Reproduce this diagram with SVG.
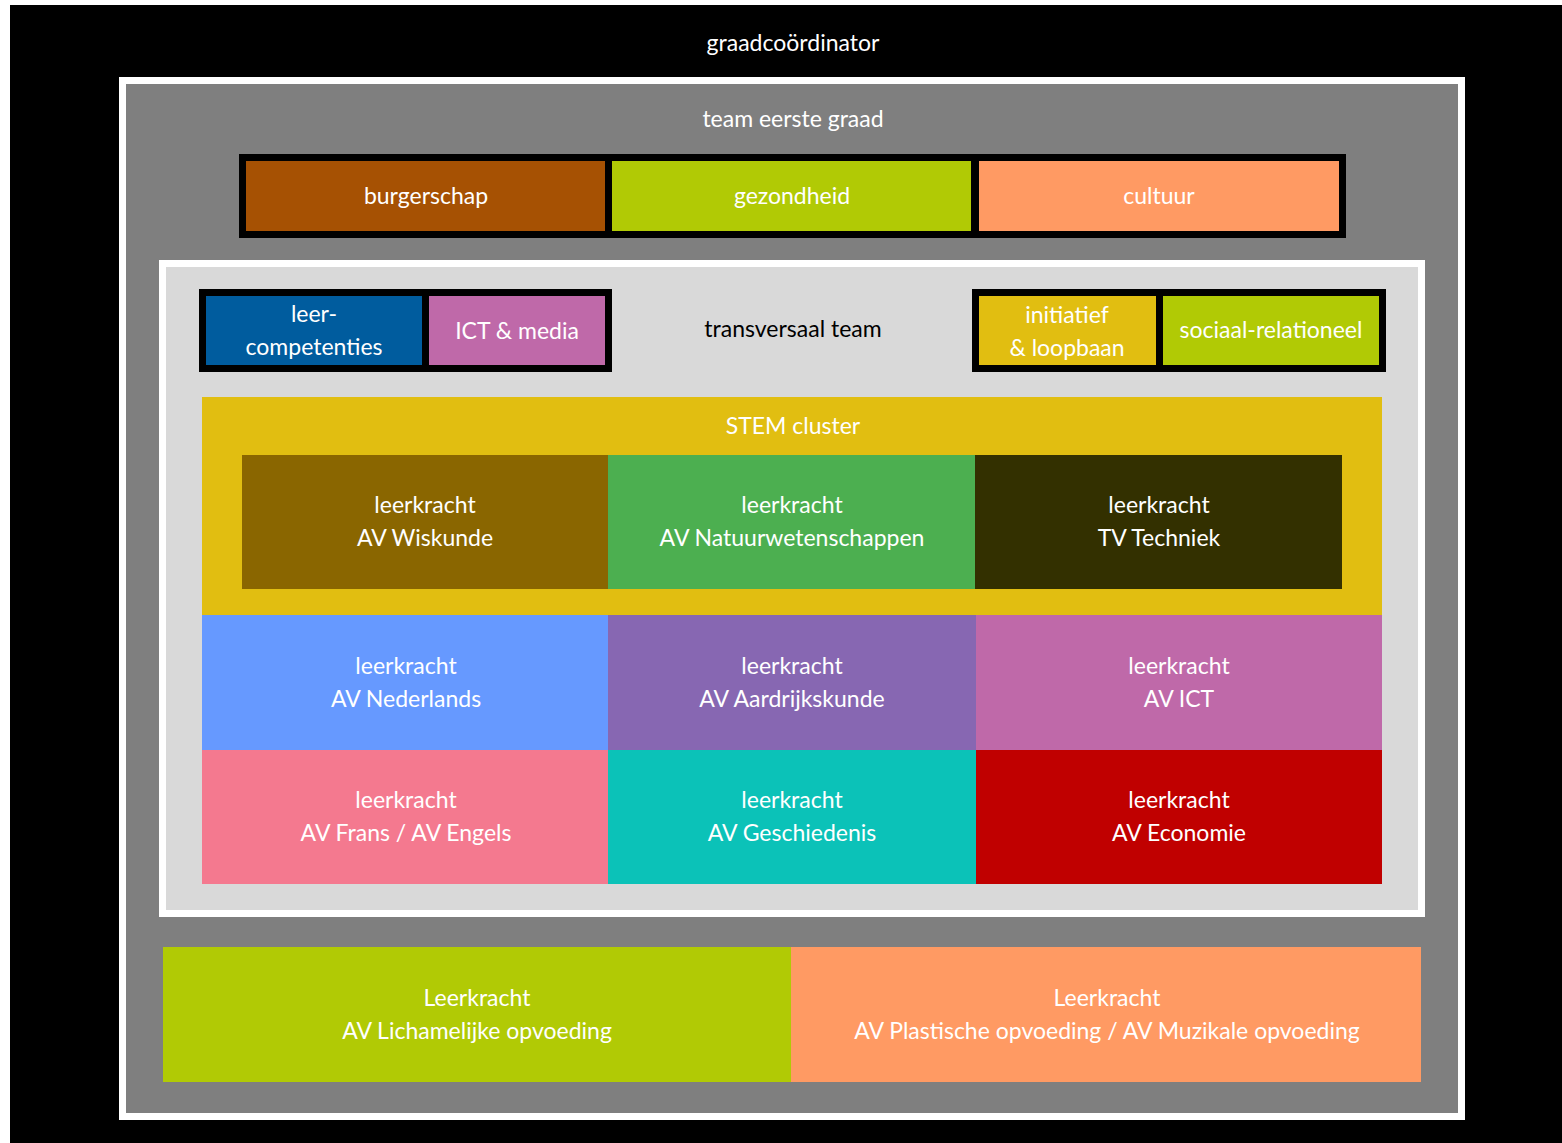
<svg xmlns="http://www.w3.org/2000/svg" width="1562" height="1143" viewBox="0 0 1562 1143">
<style>
text{font-family:Lato,"Open Sans","Liberation Sans",sans-serif;font-size:23px;fill:#fff;text-anchor:middle}
.dk{fill:#000}
</style>
<rect width="1562" height="1143" fill="#fff"/>
<g id="graadcoordinator">
<rect x="10" y="5" width="1552" height="1138" fill="#000"/>
<text x="793" y="51">graadcoördinator</text>
</g>
<g id="team-eerste-graad">
<rect x="119" y="77" width="1346" height="1043" fill="#fff"/>
<rect x="126" y="84" width="1332" height="1029" fill="#7f7f7f"/>
<text x="793" y="127">team eerste graad</text>
</g>
<g id="thema-balk">
<rect x="239" y="154" width="1107" height="84" fill="#000"/>
<g id="burgerschap"><rect x="246" y="161" width="359" height="70" fill="#a65103"/><text x="426" y="204">burgerschap</text></g>
<g id="gezondheid"><rect x="612" y="161" width="359" height="70" fill="#b1ca05"/><text x="792" y="204">gezondheid</text></g>
<g id="cultuur"><rect x="979" y="161" width="360" height="70" fill="#ff9a63"/><text x="1159" y="204">cultuur</text></g>
</g>
<g id="transversaal-team">
<rect x="159" y="260" width="1266" height="657" fill="#fff"/>
<rect x="166" y="267" width="1252" height="643" fill="#d9d9d9"/>
<text class="dk" x="793" y="337">transversaal team</text>
</g>
<g id="links-balk">
<rect x="199" y="289" width="413" height="83" fill="#000"/>
<g id="leercompetenties"><rect x="206" y="296" width="216" height="69" fill="#005c9e"/><text x="314" y="322">leer-</text><text x="314" y="355">competenties</text></g>
<g id="ict-media"><rect x="429" y="296" width="176" height="69" fill="#bf69a9"/><text x="517" y="339">ICT &amp; media</text></g>
</g>
<g id="rechts-balk">
<rect x="972" y="289" width="414" height="83" fill="#000"/>
<g id="initiatief"><rect x="979" y="296" width="177" height="69" fill="#e1be11"/><text x="1067" y="323">initiatief</text><text x="1067" y="356">&amp; loopbaan</text></g>
<g id="sociaal"><rect x="1163" y="296" width="216" height="69" fill="#b1ca05"/><text x="1271" y="338">sociaal-relationeel</text></g>
</g>
<g id="stem-cluster">
<rect x="202" y="397" width="1180" height="218" fill="#e1be11"/>
<text x="793" y="434">STEM cluster</text>
</g>
<g id="wiskunde"><rect x="242" y="455" width="366" height="134" fill="#8a6600"/><text x="425" y="513">leerkracht</text><text x="425" y="546">AV Wiskunde</text></g>
<g id="natuurwetenschappen"><rect x="608" y="455" width="367" height="134" fill="#4caf50"/><text x="792" y="513">leerkracht</text><text x="792" y="546">AV Natuurwetenschappen</text></g>
<g id="techniek"><rect x="975" y="455" width="367" height="134" fill="#333000"/><text x="1159" y="513">leerkracht</text><text x="1159" y="546">TV Techniek</text></g>
<g id="nederlands"><rect x="202" y="615" width="406" height="135" fill="#6699ff"/><text x="406" y="674">leerkracht</text><text x="406" y="707">AV Nederlands</text></g>
<g id="aardrijkskunde"><rect x="608" y="615" width="368" height="135" fill="#8767b2"/><text x="792" y="674">leerkracht</text><text x="792" y="707">AV Aardrijkskunde</text></g>
<g id="ict"><rect x="976" y="615" width="406" height="135" fill="#bf69a9"/><text x="1179" y="674">leerkracht</text><text x="1179" y="707">AV ICT</text></g>
<g id="frans-engels"><rect x="202" y="750" width="406" height="134" fill="#f4798f"/><text x="406" y="808">leerkracht</text><text x="406" y="841">AV Frans / AV Engels</text></g>
<g id="geschiedenis"><rect x="608" y="750" width="368" height="134" fill="#0bc2b8"/><text x="792" y="808">leerkracht</text><text x="792" y="841">AV Geschiedenis</text></g>
<g id="economie"><rect x="976" y="750" width="406" height="134" fill="#c00000"/><text x="1179" y="808">leerkracht</text><text x="1179" y="841">AV Economie</text></g>
<g id="lichamelijke-opvoeding"><rect x="163" y="947" width="628" height="135" fill="#b1ca05"/><text x="477" y="1006">Leerkracht</text><text x="477" y="1039">AV Lichamelijke opvoeding</text></g>
<g id="plastische-muzikale"><rect x="791" y="947" width="630" height="135" fill="#ff9a63"/><text x="1107" y="1006">Leerkracht</text><text x="1107" y="1039">AV Plastische opvoeding / AV Muzikale opvoeding</text></g>
<g id="connectors"></g>
</svg>
